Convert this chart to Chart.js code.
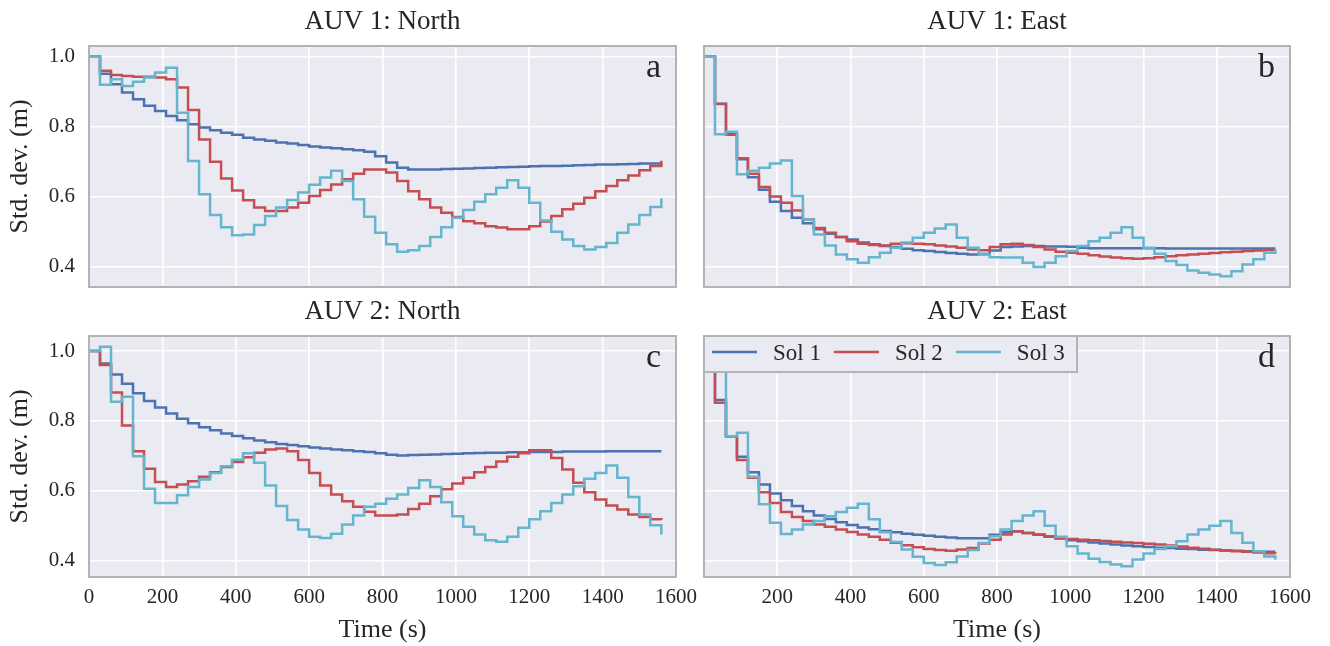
<!DOCTYPE html>
<html>
<head>
<meta charset="utf-8">
<script src="https://cdn.jsdelivr.net/npm/chart.js@4.4.0/dist/chart.umd.min.js"></script>
<style>
    body { margin: 0; background: #ffffff; width: 1330px; height: 646px; position: relative; overflow: hidden; }
    canvas { position: absolute; }
</style>
</head>
<body>
<canvas id="panelA" width="700" height="300" style="left:0px;top:0px"></canvas>
<canvas id="panelB" width="640" height="300" style="left:690px;top:0px"></canvas>
<canvas id="panelC" width="700" height="346" style="left:0px;top:300px"></canvas>
<canvas id="panelD" width="640" height="346" style="left:690px;top:300px"></canvas>
<script>
// sample times (s), one value per 30 s step
const times = [0, 30, 60, 90, 120, 150, 180, 210, 240, 270, 300, 330, 360, 390, 420, 450, 480, 510,
    540, 570, 600, 630, 660, 690, 720, 750, 780, 810, 840, 870, 900, 930, 960, 990, 1020, 1050,
    1080, 1110, 1140, 1170, 1200, 1230, 1260, 1290, 1320, 1350, 1380, 1410, 1440, 1470, 1500, 1530, 1560];

const xTickValues = [0, 200, 400, 600, 800, 1000, 1200, 1400, 1600];
const yTickValues = [0.4, 0.6, 0.8, 1.0];

const seriesNames = ['Sol 1', 'Sol 2', 'Sol 3'];
const seriesColors = ['#4c72b0', '#c44e52', '#64b5cd'];

const panelTitles = ['AUV 1: North', 'AUV 1: East', 'AUV 2: North', 'AUV 2: East'];
const panelLetters = ['a', 'b', 'c', 'd'];
const yAxisLabel = 'Std. dev. (m)';
const xAxisLabel = 'Time (s)';

// AUV 1: North
const auv1NorthSol1 = [1.0, 0.952, 0.922, 0.898, 0.879, 0.86, 0.845, 0.831, 0.819, 0.807, 0.798, 0.79, 0.783,
    0.777, 0.769, 0.764, 0.76, 0.755, 0.752, 0.748, 0.744, 0.741, 0.739, 0.736, 0.733, 0.729, 0.716,
    0.698, 0.683, 0.678, 0.678, 0.678, 0.679, 0.68, 0.681, 0.682, 0.683, 0.684, 0.685, 0.686, 0.687,
    0.688, 0.688, 0.689, 0.69, 0.691, 0.692, 0.692, 0.693, 0.694, 0.695, 0.695, 0.696];
const auv1NorthSol2 = [1.0, 0.96, 0.948, 0.945, 0.943, 0.943, 0.941, 0.936, 0.912, 0.848, 0.764, 0.70, 0.652,
    0.618, 0.59, 0.569, 0.559, 0.559, 0.569, 0.583, 0.602, 0.619, 0.635, 0.65, 0.666, 0.678, 0.678,
    0.669, 0.645, 0.616, 0.593, 0.569, 0.554, 0.542, 0.53, 0.524, 0.516, 0.512, 0.507, 0.507, 0.516,
    0.529, 0.545, 0.564, 0.58, 0.597, 0.616, 0.631, 0.647, 0.661, 0.676, 0.688, 0.703];
const auv1NorthSol3 = [1.0, 0.92, 0.936, 0.917, 0.929, 0.941, 0.955, 0.969, 0.84, 0.702, 0.607, 0.548, 0.513,
    0.49, 0.492, 0.519, 0.545, 0.569, 0.591, 0.612, 0.634, 0.655, 0.674, 0.645, 0.593, 0.543, 0.497,
    0.464, 0.443, 0.447, 0.459, 0.485, 0.513, 0.54, 0.562, 0.586, 0.607, 0.626, 0.647, 0.626, 0.583,
    0.532, 0.5, 0.478, 0.459, 0.449, 0.456, 0.468, 0.497, 0.521, 0.548, 0.571, 0.596];

// AUV 1: East
const auv1EastSol1 = [1.0, 0.866, 0.779, 0.707, 0.656, 0.62, 0.586, 0.559, 0.54, 0.524, 0.507, 0.494, 0.485,
    0.478, 0.469, 0.464, 0.459, 0.456, 0.451, 0.447, 0.445, 0.442, 0.439, 0.437, 0.435, 0.436, 0.446,
    0.456, 0.458, 0.459, 0.459, 0.458, 0.458, 0.457, 0.454, 0.453, 0.453, 0.453, 0.453, 0.453, 0.453,
    0.453, 0.452, 0.452, 0.452, 0.452, 0.452, 0.452, 0.452, 0.452, 0.452, 0.452, 0.452];
const auv1EastSol2 = [1.0, 0.865, 0.777, 0.71, 0.666, 0.628, 0.601, 0.583, 0.561, 0.535, 0.511, 0.497, 0.485,
    0.473, 0.466, 0.462, 0.461, 0.466, 0.467, 0.466, 0.464, 0.461, 0.458, 0.454, 0.449, 0.447, 0.456,
    0.464, 0.466, 0.462, 0.456, 0.449, 0.443, 0.44, 0.437, 0.433, 0.429, 0.426, 0.424, 0.423, 0.424,
    0.427, 0.43, 0.433, 0.435, 0.437, 0.439, 0.441, 0.443, 0.445, 0.446, 0.448, 0.448];
const auv1EastSol3 = [1.0, 0.779, 0.786, 0.664, 0.674, 0.683, 0.695, 0.704, 0.602, 0.535, 0.492, 0.461, 0.435,
    0.421, 0.411, 0.427, 0.44, 0.454, 0.469, 0.483, 0.497, 0.509, 0.521, 0.483, 0.454, 0.435, 0.427,
    0.426, 0.426, 0.411, 0.399, 0.411, 0.43, 0.445, 0.459, 0.473, 0.483, 0.497, 0.513, 0.483, 0.454,
    0.437, 0.416, 0.405, 0.389, 0.383, 0.378, 0.373, 0.387, 0.406, 0.421, 0.44, 0.45];

// AUV 2: North
const auv2NorthSol1 = [1.0, 0.964, 0.933, 0.906, 0.879, 0.857, 0.838, 0.821, 0.806, 0.793, 0.782, 0.773, 0.764,
    0.757, 0.75, 0.744, 0.739, 0.734, 0.731, 0.727, 0.724, 0.721, 0.718, 0.716, 0.713, 0.711, 0.707,
    0.703, 0.701, 0.702, 0.703, 0.704, 0.705, 0.706, 0.707, 0.708, 0.709, 0.709, 0.71, 0.71, 0.711,
    0.711, 0.711, 0.712, 0.712, 0.712, 0.712, 0.713, 0.713, 0.713, 0.713, 0.713, 0.713];
const auv2NorthSol2 = [1.0, 0.96, 0.881, 0.787, 0.713, 0.663, 0.625, 0.611, 0.618, 0.627, 0.64, 0.653, 0.668,
    0.682, 0.696, 0.709, 0.718, 0.721, 0.713, 0.688, 0.651, 0.615, 0.589, 0.57, 0.554, 0.54, 0.529,
    0.529, 0.532, 0.548, 0.563, 0.584, 0.604, 0.621, 0.637, 0.653, 0.668, 0.684, 0.697, 0.707, 0.716,
    0.716, 0.694, 0.661, 0.623, 0.596, 0.575, 0.558, 0.546, 0.532, 0.525, 0.518, 0.516];
const auv2NorthSol3 = [1.0, 1.012, 0.855, 0.869, 0.699, 0.606, 0.565, 0.565, 0.587, 0.611, 0.632, 0.651, 0.67,
    0.689, 0.707, 0.68, 0.615, 0.556, 0.516, 0.489, 0.468, 0.465, 0.477, 0.503, 0.529, 0.554, 0.563,
    0.577, 0.589, 0.608, 0.63, 0.611, 0.567, 0.527, 0.497, 0.475, 0.458, 0.454, 0.468, 0.494, 0.518,
    0.541, 0.565, 0.589, 0.613, 0.634, 0.651, 0.672, 0.637, 0.582, 0.532, 0.501, 0.475];

// AUV 2: East
const auv2EastSol1 = [1.0, 0.86, 0.756, 0.697, 0.653, 0.618, 0.592, 0.573, 0.556, 0.541, 0.529, 0.519, 0.51,
    0.502, 0.495, 0.49, 0.485, 0.481, 0.477, 0.474, 0.471, 0.468, 0.466, 0.464, 0.464, 0.464, 0.474,
    0.481, 0.483, 0.479, 0.474, 0.468, 0.463, 0.458, 0.455, 0.452, 0.449, 0.446, 0.443, 0.441, 0.439,
    0.437, 0.436, 0.434, 0.433, 0.431, 0.43, 0.429, 0.428, 0.427, 0.426, 0.425, 0.425];
const auv2EastSol2 = [1.0, 0.852, 0.756, 0.688, 0.637, 0.596, 0.565, 0.539, 0.525, 0.513, 0.503, 0.497, 0.489,
    0.482, 0.475, 0.468, 0.46, 0.451, 0.444, 0.438, 0.433, 0.43, 0.428, 0.432, 0.436, 0.449, 0.46,
    0.475, 0.484, 0.479, 0.475, 0.47, 0.465, 0.462, 0.46, 0.458, 0.456, 0.454, 0.452, 0.45, 0.448,
    0.446, 0.443, 0.44, 0.437, 0.434, 0.431, 0.429, 0.427, 0.425, 0.423, 0.421, 0.42];
const auv2EastSol3 = [1.0, 0.98, 0.756, 0.766, 0.64, 0.561, 0.508, 0.476, 0.489, 0.503, 0.513, 0.527, 0.539,
    0.551, 0.563, 0.518, 0.481, 0.453, 0.432, 0.411, 0.393, 0.387, 0.395, 0.412, 0.43, 0.45, 0.47,
    0.489, 0.513, 0.529, 0.541, 0.5, 0.468, 0.441, 0.42, 0.405, 0.396, 0.389, 0.384, 0.403, 0.42,
    0.433, 0.441, 0.455, 0.475, 0.489, 0.5, 0.513, 0.479, 0.451, 0.427, 0.412, 0.403];

const topRowRange = [0.342, 1.031];
const bottomRowRange = [0.353, 1.043];

const bgColor = '#eaeaf2';
const frameColor = '#b3b3b3';
const textColor = '#262626';
const serif = '"Liberation Serif", "DejaVu Serif", serif';

Chart.defaults.font.family = serif;
Chart.defaults.color = textColor;

function drawLegend(chart) {
    const { ctx, chartArea: a } = chart;
    ctx.fillStyle = bgColor;
    ctx.fillRect(a.left, a.top, 373, 36);
    ctx.strokeStyle = frameColor;
    ctx.lineWidth = 2;
    ctx.strokeRect(a.left, a.top, 373, 36);
    ctx.font = '23px ' + serif;
    ctx.textAlign = 'left';
    ctx.textBaseline = 'alphabetic';
    let x = a.left + 8;
    chart.data.datasets.forEach(ds => {
        ctx.strokeStyle = ds.borderColor;
        ctx.lineWidth = 2.5;
        ctx.beginPath();
        ctx.moveTo(x, a.top + 16);
        ctx.lineTo(x + 45, a.top + 16);
        ctx.stroke();
        ctx.fillStyle = textColor;
        ctx.fillText(ds.label, x + 61, a.top + 24);
        x += 61 + ctx.measureText(ds.label).width + 13;
    });
}

function decorPlugin(panel) {
    return {
        id: 'panelDecor',
        beforeDraw(chart) {
            const { ctx, chartArea: a } = chart;
            ctx.save();
            ctx.fillStyle = bgColor;
            ctx.fillRect(a.left, a.top, a.right - a.left, a.bottom - a.top);
            ctx.restore();
        },
        afterDatasetsDraw(chart) {
            const { ctx, chartArea: a } = chart;
            ctx.save();
            if (panel.legend) drawLegend(chart);
            ctx.strokeStyle = frameColor;
            ctx.lineWidth = 2;
            ctx.strokeRect(a.left, a.top, a.right - a.left, a.bottom - a.top);

            ctx.fillStyle = textColor;
            ctx.textBaseline = 'alphabetic';
            ctx.font = '34px ' + serif;
            ctx.textAlign = 'right';
            ctx.fillText(panel.letter, a.right - 15, a.top + 31);

            ctx.font = '27px ' + serif;
            ctx.textAlign = 'center';
            ctx.fillText(panel.title, (a.left + a.right) / 2, a.top - 17);
            ctx.restore();
        }
    };
}

function makePanel(canvasId, panel) {
    const datasets = panel.series.map((vals, i) => ({
        label: seriesNames[i],
        data: times.map((t, k) => ({ x: t, y: vals[k] })),
        borderColor: seriesColors[i],
        borderWidth: 2.5,
        pointRadius: 0,
        stepped: true,
        fill: false,
        order: 2 - i
    }));

    const isLeft = panel.col === 0;
    const isBottom = panel.row === 1;

    new Chart(document.getElementById(canvasId), {
        type: 'line',
        data: { datasets: datasets },
        plugins: [decorPlugin(panel)],
        options: {
            responsive: false,
            animation: false,
            events: [],
            layout: {
                padding: { top: isBottom ? 36 : 46, right: isLeft ? 24 : 40, left: 0, bottom: 0 }
            },
            plugins: {
                legend: { display: false },
                tooltip: { enabled: false }
            },
            scales: {
                x: {
                    type: 'linear',
                    min: 0,
                    max: 1600,
                    afterBuildTicks: scale => { scale.ticks = xTickValues.map(v => ({ value: v })); },
                    afterFit: scale => {
                        scale.height = isBottom ? 69 : 13;
                        scale.paddingLeft = 0; scale.paddingRight = 0;
                    },
                    grid: { color: '#ffffff', lineWidth: 1.6, drawTicks: false },
                    border: { display: false },
                    ticks: {
                        display: isBottom,
                        autoSkip: false,
                        maxRotation: 0,
                        padding: 8,
                        font: { size: 21 },
                        callback: v => (!isLeft && v === 0) ? '' : String(v)
                    },
                    title: {
                        display: isBottom,
                        text: xAxisLabel,
                        font: { size: 26 },
                        padding: { top: 0, bottom: 0 }
                    }
                },
                y: {
                    type: 'linear',
                    min: panel.range[0],
                    max: panel.range[1],
                    afterBuildTicks: scale => { scale.ticks = yTickValues.map(v => ({ value: v })); },
                    afterFit: scale => {
                        scale.width = isLeft ? 89 : 14;
                        scale.paddingTop = 0; scale.paddingBottom = 0;
                    },
                    grid: { color: '#ffffff', lineWidth: 1.6, drawTicks: false },
                    border: { display: false },
                    ticks: {
                        display: isLeft,
                        padding: 14,
                        font: { size: 21 },
                        callback: v => v.toFixed(1)
                    },
                    title: {
                        display: isLeft,
                        text: yAxisLabel,
                        font: { size: 26 },
                        padding: { top: 5, bottom: 0 }
                    }
                }
            }
        }
    });
}

makePanel('panelA', { row: 0, col: 0, title: panelTitles[0], letter: panelLetters[0], range: topRowRange,
    series: [auv1NorthSol1, auv1NorthSol2, auv1NorthSol3] });
makePanel('panelB', { row: 0, col: 1, title: panelTitles[1], letter: panelLetters[1], range: topRowRange,
    series: [auv1EastSol1, auv1EastSol2, auv1EastSol3] });
makePanel('panelC', { row: 1, col: 0, title: panelTitles[2], letter: panelLetters[2], range: bottomRowRange,
    series: [auv2NorthSol1, auv2NorthSol2, auv2NorthSol3] });
makePanel('panelD', { row: 1, col: 1, title: panelTitles[3], letter: panelLetters[3], range: bottomRowRange,
    series: [auv2EastSol1, auv2EastSol2, auv2EastSol3], legend: true });
</script>
</body>
</html>
